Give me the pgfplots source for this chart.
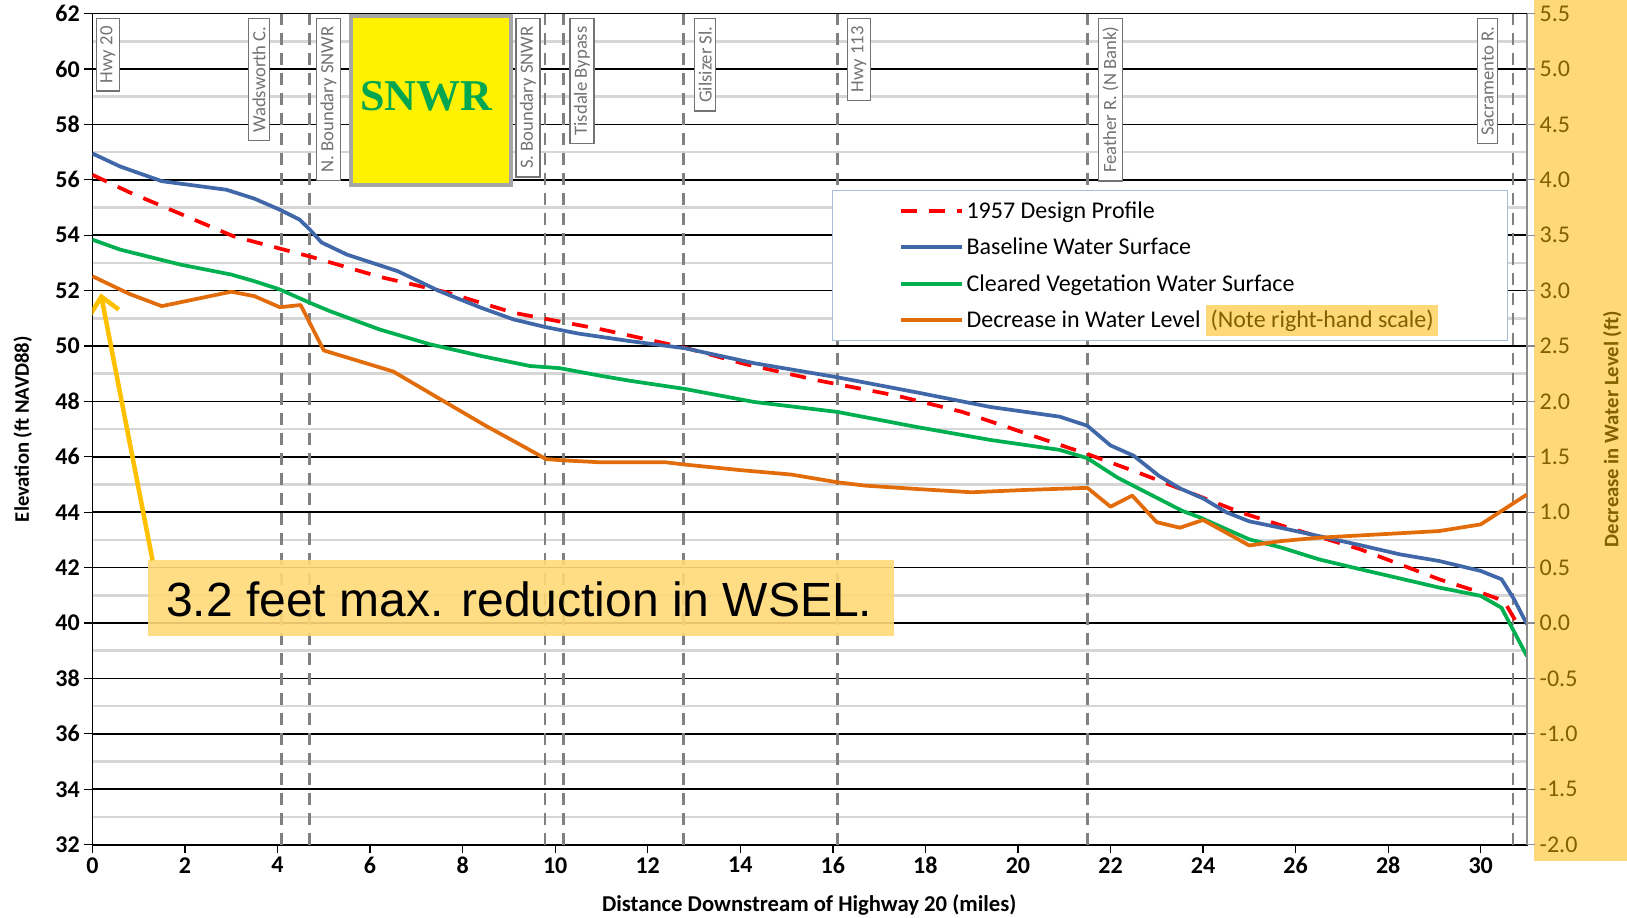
\documentclass[border=0pt]{standalone}
\usepackage{fontspec}
\setmainfont{Carlito}
\newfontfamily\arialfont{Liberation Sans}
\newfontfamily\timesfont{Liberation Serif}
\usepackage{pgfplots}
\usepackage{pgfplotstable}
\pgfplotsset{compat=1.18}
\usetikzlibrary{arrows.meta}

\definecolor{baseblue}{HTML}{4068A8}
\definecolor{clgreen}{HTML}{00B050}
\definecolor{decorange}{HTML}{E36C0A}
\definecolor{stripcol}{HTML}{FFD978}
\definecolor{tickolive}{HTML}{806000}
\definecolor{annotfill}{HTML}{FFD978}
\definecolor{arrowcol}{HTML}{FFC000}
\definecolor{legendborder}{HTML}{A6BDDB}
\definecolor{snwrgreen}{HTML}{00A650}

\tikzset{
  design/.style={red, line width=2.8pt, dash pattern=on 12pt off 9pt},
  base/.style={baseblue, line width=2.8pt, line join=round},
  cleared/.style={clgreen, line width=2.8pt, line join=round},
  decr/.style={decorange, line width=2.8pt, line join=round},
  landmark/.style={black!50, line width=2pt, dash pattern=on 9pt off 6pt},
  lbox/.style={rotate=90, anchor=east, fill=white, draw=black!55, line width=1pt,
    inner xsep=6pt, inner ysep=3pt, text=black!55, font=\fontsize{14}{16}\selectfont},
}

% 1957 design profile (ft NAVD88)
\pgfplotstableread{
x y
0 56.18
0.8 55.55
3.05 53.96
4.77 53.2
6.2 52.5
7.65 51.94
9.1 51.2
11.0 50.6
12.8 49.94
14.1 49.35
15.7 48.75
17.4 48.2
18.8 47.62
20.5 46.66
21.5 46.1
22.6 45.43
23.5 44.85
24.8 44.0
25.7 43.52
27.4 42.66
29.1 41.58
30.0 41.1
30.5 40.8
30.85 39.8
}\design

% baseline water surface (ft NAVD88)
\pgfplotstableread{
x y
0 56.95
0.6 56.48
1.5 55.95
2.9 55.64
3.5 55.32
4.05 54.92
4.48 54.56
4.7 54.2
4.95 53.74
5.5 53.3
6.6 52.7
7.5 51.98
8.4 51.38
9.1 50.96
9.8 50.68
10.5 50.45
11.6 50.18
12.8 49.92
14.3 49.38
16.1 48.87
17.8 48.33
19.4 47.8
20.9 47.45
21.5 47.12
22.0 46.41
22.5 46.04
23.05 45.31
23.5 44.86
24.0 44.5
24.5 44.0
25.0 43.67
25.7 43.43
26.5 43.14
27.4 42.81
28.25 42.48
29.1 42.24
30.0 41.88
30.45 41.58
30.72 40.86
31.0 39.95
}\baseline

% cleared vegetation water surface (ft NAVD88)
\pgfplotstableread{
x y
0 53.84
0.6 53.48
1.9 52.94
3.0 52.58
3.5 52.34
4.05 52.04
4.7 51.56
5.13 51.26
6.2 50.6
7.3 50.06
8.4 49.64
9.45 49.28
10.1 49.2
11.0 48.92
11.6 48.75
12.8 48.45
14.3 47.98
16.1 47.62
17.8 47.08
19.4 46.61
20.9 46.25
21.5 45.95
22.15 45.25
22.85 44.65
23.55 44.05
23.95 43.8
25.0 43.02
25.7 42.72
26.5 42.3
27.4 41.94
28.25 41.61
29.1 41.28
30.0 40.98
30.45 40.55
31.0 38.8
}\cleared

% decrease in water level (ft, right-hand scale)
\pgfplotstableread{
x y
0 3.13
0.8 2.97
1.5 2.86
3.0 2.99
3.5 2.95
4.05 2.85
4.5 2.87
5.0 2.46
6.5 2.27
7.6 2.0
8.5 1.78
9.2 1.62
9.8 1.48
10.1 1.47
11.0 1.45
12.4 1.45
12.8 1.43
14.0 1.38
15.1 1.34
16.1 1.27
16.7 1.24
17.8 1.21
19.0 1.18
20.1 1.20
21.5 1.22
22.0 1.05
22.47 1.15
23.0 0.91
23.5 0.86
24.0 0.93
25.0 0.70
25.7 0.74
26.5 0.77
27.8 0.80
29.1 0.83
30.0 0.89
31.0 1.16
}\decrease

\begin{document}
\begin{tikzpicture}
% right-hand scale band
\fill[stripcol] (1080.9pt,-12.5pt) rectangle (1151pt,633.5pt);

\begin{axis}[
  name=main, at={(0pt,0pt)}, anchor=south west, scale only axis,
  width=1076pt, height=623.3pt,
  xmin=0, xmax=31, ymin=32, ymax=62,
  xtick={0,2,...,30}, ytick={32,34,...,62}, minor ytick={33,35,...,61},
  tick pos=left, tick align=outside, major tick length=6pt, minor tick length=0pt,
  ymajorgrids, yminorgrids,
  major grid style={black, line width=1.1pt},
  minor grid style={black!16, line width=2pt},
  axis line style={black, line width=1.3pt},
  tick style={black, line width=1pt},
  tick label style={font=\fontsize{18}{20}\selectfont\bfseries},
  /pgf/number format/assume math mode=true,
  xlabel={Distance Downstream of Highway 20 (miles)},
  ylabel={Elevation (ft NAVD88)},
  xlabel style={at={(axis description cs:0.4997,-0.0725)}, anchor=center,
    font=\fontsize{17}{20}\selectfont\bfseries},
  ylabel style={at={(axis description cs:-0.0485,0.5)}, anchor=center,
    font=\fontsize{15.5}{18}\selectfont\bfseries},
]
% landmark cross sections
\pgfplotsinvokeforeach{4.08,4.69,9.78,10.18,12.78,16.1,21.5,30.7}{
  \addplot[landmark, forget plot] coordinates {(#1,32) (#1,62)};
}
\addplot[design] table {\design};
\addplot[base] table {\baseline};
\addplot[cleared] table {\cleared};

\node[lbox] at (axis cs:0.336,61.85) {Hwy 20};
\node[lbox] at (axis cs:3.6,61.85) {Wadsworth C.};
\node[lbox] at (axis cs:5.1,61.85) {N. Boundary SNWR};
\node[lbox] at (axis cs:9.41,61.85) {S. Boundary SNWR};
\node[lbox] at (axis cs:10.58,61.85) {Tisdale Bypass};
\node[lbox] at (axis cs:13.24,61.85) {Gilsizer Sl.};
\node[lbox] at (axis cs:16.56,61.85) {Hwy 113};
\node[lbox] at (axis cs:22.0,61.85) {Feather R. (N Bank)};
\node[lbox] at (axis cs:30.15,61.85) {Sacramento R.};

\draw[fill=yellow, draw=black!35, line width=3pt] (axis cs:5.58,55.82) rectangle (axis cs:9.04,61.93);
\node[font=\timesfont\bfseries\fontsize{33}{36}\selectfont, text=snwrgreen] at (axis cs:7.22,59.0) {SNWR};
\end{axis}

\begin{axis}[
  at={(0pt,0pt)}, anchor=south west, scale only axis,
  width=1076pt, height=623.3pt,
  xmin=0, xmax=31, ymin=-2, ymax=5.5,
  axis x line=none, axis y line*=right,
  ytick={-2,-1.5,...,5.5},
  tick align=outside, major tick length=6pt,
  axis line style={draw=black!45, line width=2.2pt},
  tick style={black!45, line width=1pt},
  yticklabel style={font=\fontsize{18}{20}\selectfont, text=tickolive,
    /pgf/number format/.cd, fixed, fixed zerofill, precision=1, assume math mode=true},
  ylabel={Decrease in Water Level (ft)},
  ylabel style={at={(axis description cs:1.0595,0.5)}, anchor=center,
    font=\fontsize{15.5}{18}\selectfont\bfseries, text=tickolive},
  legend cell align=left,
  legend image code/.code={\draw[#1] (0pt,0pt) -- (46pt,0pt);},
  legend style={at={(axis description cs:0.5152,0.7877)}, anchor=north west,
    draw=legendborder, line width=1pt, fill=white,
    inner xsep=50pt, inner ysep=6pt, row sep=9.4pt,
    font=\fontsize{18}{20}\selectfont,
    /tikz/every even column/.append style={column sep=10pt}},
]
\addlegendimage{design}\addlegendentry{1957 Design Profile}
\addlegendimage{base}\addlegendentry{Baseline Water Surface}
\addlegendimage{cleared}\addlegendentry{Cleared Vegetation Water Surface}
\addplot[decr] table {\decrease};
\addlegendentry{Decrease in Water Level {\setlength{\fboxsep}{3.5pt}\smash{\colorbox{stripcol}{\textcolor{tickolive}{(Note right-hand scale)}}}}}

% callout
\fill[annotfill, fill opacity=0.9] (axis cs:1.21,-0.118) rectangle (axis cs:17.33,0.565);
\node[anchor=west, font=\arialfont\fontsize{36}{40}\selectfont, inner sep=0pt] at (axis cs:1.59,0.21) {3.2 feet max. reduction in WSEL.};
\draw[arrowcol, line width=3.4pt, -{Straight Barb[length=12pt,width=22pt]}] (axis cs:1.3,0.565) -- (axis cs:0.18,2.975);
\end{axis}

\pgfresetboundingbox
\path[use as bounding box] (-69.3pt,-54.3pt) rectangle (1151pt,633.5pt);
\end{tikzpicture}
\end{document}
